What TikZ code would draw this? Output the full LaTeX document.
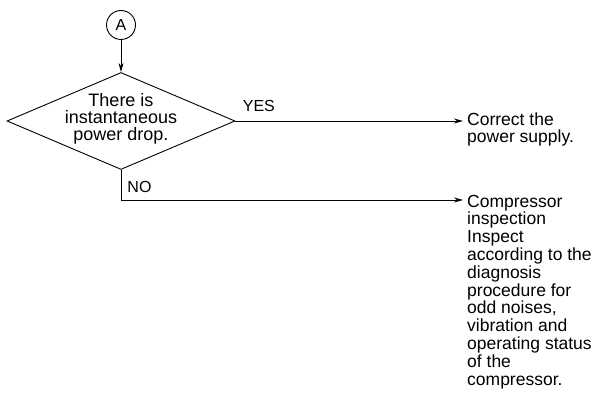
\documentclass[tikz,border=0pt]{standalone}
\usepackage{fontspec}
\setmainfont{Liberation Sans}
\usetikzlibrary{arrows.meta,positioning,shapes.geometric}
\tikzset{
  flowline/.style={line width=.9pt},
  flowarrow/.style={flowline,-{Stealth[length=9pt,width=5pt]}},
  bigtext/.style={font=\fontsize{18}{17}\selectfont,inner sep=0pt},
  sidetext/.style={font=\fontsize{17.5}{17.8}\selectfont,inner sep=0pt,align=left,anchor=base west},
  lbltext/.style={font=\fontsize{16}{17}\selectfont,inner sep=0pt,anchor=base west}
}
\begin{document}
\begin{tikzpicture}[x=1pt,y=-1pt]
\useasboundingbox (0,0) rectangle (602,395);
% connector and decision
\node[circle,draw,flowline,minimum size=29pt,inner sep=0pt,font=\fontsize{16}{17}\selectfont] (conA) at (121,25) {A};
\node[diamond,draw,flowline,minimum width=228pt,minimum height=97pt,inner sep=0pt] (drop) at (121,121) {};
\node[bigtext,align=center] (dropTxt) at ([yshift=2pt]drop.center) {There is\\instantaneous\\power drop.};
% results (base = last line)
\node[sidetext] (fixPower) at (467,143) {Correct the\\power supply.};
\node[sidetext] (compInsp) at (467,385) {Compressor\\inspection\\Inspect\\according to the\\diagnosis\\procedure for\\odd noises,\\vibration and\\operating status\\of the\\compressor.};
\coordinate (noTurn) at (121,200);
% connectors
\draw[flowarrow] (conA) -- (drop.north);
\draw[flowarrow] (drop.east) node[lbltext,xshift=7pt,yshift=9pt] {YES} -- ([xshift=-4pt]drop.east -| fixPower.west);
\draw[flowarrow] (drop.south) -- (noTurn) node[lbltext,xshift=6pt,yshift=7pt] {NO} -- ([xshift=-4pt]noTurn -| compInsp.west);
\end{tikzpicture}
\end{document}
